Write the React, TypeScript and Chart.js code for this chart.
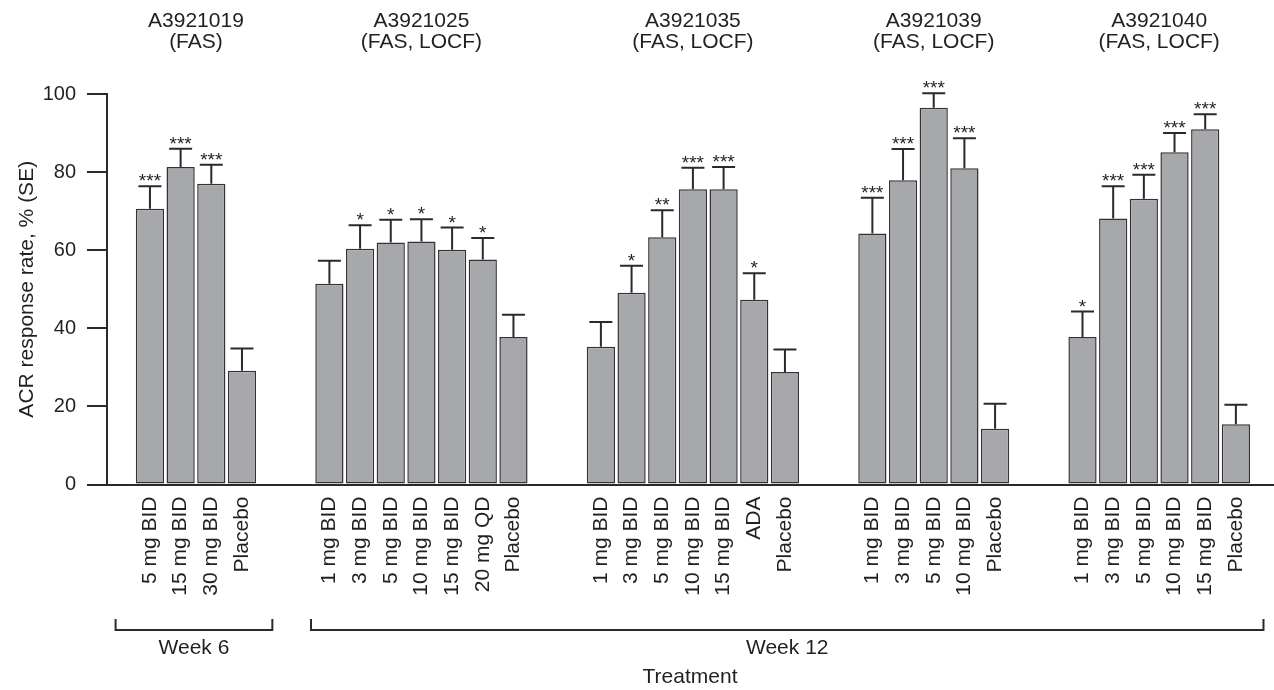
import React, { useEffect, useRef } from "react";
import { Chart, registerables } from "chart.js";

Chart.register(...registerables);

// ---- Data ----
const groupTitles: string[][] = [
  ["A3921019", "(FAS)"],
  ["A3921025", "(FAS, LOCF)"],
  ["A3921035", "(FAS, LOCF)"],
  ["A3921039", "(FAS, LOCF)"],
  ["A3921040", "(FAS, LOCF)"],
];

const g1Labels = ["5 mg BID", "15 mg BID", "30 mg BID", "Placebo"];
const g1Values = [70.6, 81.3, 77.0, 29.1];
const g1SE = [5.8, 4.7, 4.9, 5.7];
const g1Sig = ["***", "***", "***", ""];

const g2Labels = ["1 mg BID", "3 mg BID", "5 mg BID", "10 mg BID", "15 mg BID", "20 mg QD", "Placebo"];
const g2Values = [51.4, 60.4, 62.0, 62.2, 60.1, 57.6, 37.8];
const g2SE = [5.9, 6.0, 5.8, 5.7, 5.7, 5.5, 5.7];
const g2Sig = ["", "*", "*", "*", "*", "*", ""];

const g3Labels = ["1 mg BID", "3 mg BID", "5 mg BID", "10 mg BID", "15 mg BID", "ADA", "Placebo"];
const g3Values = [35.3, 49.1, 63.3, 75.6, 75.6, 47.3, 28.8];
const g3SE = [6.3, 6.9, 6.9, 5.5, 5.7, 6.8, 5.8];
const g3Sig = ["", "*", "**", "***", "***", "*", ""];

const g4Labels = ["1 mg BID", "3 mg BID", "5 mg BID", "10 mg BID", "Placebo"];
const g4Values = [64.3, 77.9, 96.5, 81.0, 14.3];
const g4SE = [9.1, 8.0, 3.7, 7.7, 6.4];
const g4Sig = ["***", "***", "***", "***", ""];

const g5Labels = ["1 mg BID", "3 mg BID", "5 mg BID", "10 mg BID", "15 mg BID", "Placebo"];
const g5Values = [37.8, 68.1, 73.2, 85.1, 91.0, 15.4];
const g5SE = [6.5, 8.3, 6.1, 4.9, 3.8, 5.0];
const g5Sig = ["*", "***", "***", "***", "***", ""];

const weekLabels = ["Week 6", "Week 12"];
const yTicks = [0, 20, 40, 60, 80, 100];

const xTitle = "Treatment";
const yTitle = "ACR response rate, % (SE)";

// ---- Build table ----
const groupLabels = [g1Labels, g2Labels, g3Labels, g4Labels, g5Labels];
const groupValues = [g1Values, g2Values, g3Values, g4Values, g5Values];
const groupSE = [g1SE, g2SE, g3SE, g4SE, g5SE];
const groupSig = [g1Sig, g2Sig, g3Sig, g4Sig, g5Sig];

const GROUP_STEP = 2.85;
const positions: number[] = [];
const groupRanges: { first: number; last: number }[] = [];
{
  let cur = 0;
  groupLabels.forEach((labels, g) => {
    if (g > 0) cur += GROUP_STEP - 1;
    const first = cur;
    labels.forEach(() => {
      positions.push(cur);
      cur += 1;
    });
    groupRanges.push({ first, last: cur - 1 });
  });
}
const allLabels = groupLabels.flat();
const allValues = groupValues.flat();
const allSE = groupSE.flat();
const allSig = groupSig.flat();

const X_MIN = -1.4;
const X_MAX = positions[positions.length - 1] + 1.21;

const FONT = "'Liberation Sans', Arial, Helvetica, sans-serif";
const INK = "#231f20";
const LINE = "#2a2a2a";

const annotPlugin = {
  id: "annot",
  afterDatasetsDraw(chart: any) {
    const ctx = chart.ctx;
    const meta = chart.getDatasetMeta(0);
    const ys = chart.scales.y;
    const xs = chart.scales.x;
    ctx.save();
    ctx.strokeStyle = LINE;
    ctx.lineWidth = 2;
    ctx.fillStyle = INK;
    meta.data.forEach((el: any, i: number) => {
      const top = ys.getPixelForValue(allValues[i] + allSE[i]);
      ctx.beginPath();
      ctx.moveTo(el.x, el.y);
      ctx.lineTo(el.x, top);
      ctx.moveTo(el.x - 11.5, top);
      ctx.lineTo(el.x + 11.5, top);
      ctx.stroke();
      if (allSig[i]) {
        ctx.font = `19px ${FONT}`;
        ctx.textAlign = "center";
        ctx.textBaseline = "alphabetic";
        ctx.fillText(allSig[i], el.x, top + 1);
      }
    });

    // group titles
    ctx.font = `21px ${FONT}`;
    ctx.textAlign = "center";
    ctx.textBaseline = "middle";
    groupTitles.forEach((lines, g) => {
      const r = groupRanges[g];
      const cx = xs.getPixelForValue((r.first + r.last) / 2);
      lines.forEach((t, k) => ctx.fillText(t, cx, 21 + k * 21));
    });

    // brackets
    const brackets = [
      { from: groupRanges[0].first - 1.12, to: groupRanges[0].last + 0.99, label: weekLabels[0] },
      { from: groupRanges[1].first - 0.6, to: groupRanges[4].last + 0.9, label: weekLabels[1] },
    ];
    ctx.lineWidth = 2;
    ctx.strokeStyle = LINE;
    brackets.forEach((b) => {
      const x1 = xs.getPixelForValue(b.from);
      const x2 = xs.getPixelForValue(b.to);
      ctx.beginPath();
      ctx.moveTo(x1, 619);
      ctx.lineTo(x1, 630);
      ctx.lineTo(x2, 630);
      ctx.lineTo(x2, 619);
      ctx.stroke();
      ctx.font = `21px ${FONT}`;
      ctx.textAlign = "center";
      ctx.textBaseline = "middle";
      ctx.fillText(b.label, (x1 + x2) / 2, 648);
    });
    ctx.restore();
  },
};

export default function App() {
  const ref = useRef<HTMLCanvasElement | null>(null);
  useEffect(() => {
    if (!ref.current) return;
    Chart.defaults.font.family = FONT;
    const chart = new Chart(ref.current, {
      type: "bar",
      data: {
        datasets: [
          {
            data: positions.map((p, i) => ({ x: p, y: allValues[i] })),
            backgroundColor: "#a7a8ac",
            borderColor: "#333333",
            borderWidth: 1.5,
            borderSkipped: false,
            categoryPercentage: 1,
            barPercentage: 0.92,
          } as any,
        ],
      },
      options: {
        responsive: false,
        maintainAspectRatio: false,
        animation: false,
        layout: { padding: { top: 94, right: 1, left: 0, bottom: 0 } },
        plugins: { legend: { display: false }, tooltip: { enabled: false } },
        scales: {
          x: {
            type: "linear",
            min: X_MIN,
            max: X_MAX,
            offset: false,
            grid: { display: false, drawTicks: false, offset: false },
            border: { display: true, color: LINE, width: 2 },
            ticks: {
              autoSkip: false,
              minRotation: 90,
              maxRotation: 90,
              padding: 12,
              color: INK,
              font: { size: 21, family: FONT },
              callback: (_v: any, i: number) => allLabels[i],
            },
            afterBuildTicks: (scale: any) => {
              scale.ticks = positions.map((v) => ({ value: v }));
            },
            afterFit: (scale: any) => {
              scale.height = 690 - 484.5;
            },
            title: {
              display: true,
              text: xTitle,
              color: INK,
              font: { size: 21, family: FONT },
              padding: { top: 0, bottom: 0 },
            },
          } as any,
          y: {
            min: 0,
            max: 100,
            afterBuildTicks: (scale: any) => {
              scale.ticks = yTicks.map((v) => ({ value: v }));
            },
            grid: {
              drawOnChartArea: false,
              drawTicks: true,
              tickLength: 20,
              color: LINE,
              lineWidth: 2,
            },
            border: { display: true, color: LINE, width: 2 },
            ticks: {
              padding: 11,
              color: INK,
              font: { size: 20, family: FONT },
            },
            afterFit: (scale: any) => {
              scale.width = 107;
            },
            title: {
              display: true,
              text: yTitle,
              color: INK,
              font: { size: 21, family: FONT },
              padding: { top: 15, bottom: 0 },
            },
          } as any,
        },
      },
      plugins: [annotPlugin],
    });
    return () => chart.destroy();
  }, []);
  return (
    <div style={{ position: "fixed", left: 0, top: 0, width: 1274, height: 690, background: "#fff" }}>
      <canvas ref={ref} width={1274} height={690} style={{ display: "block" }} />
    </div>
  );
}
